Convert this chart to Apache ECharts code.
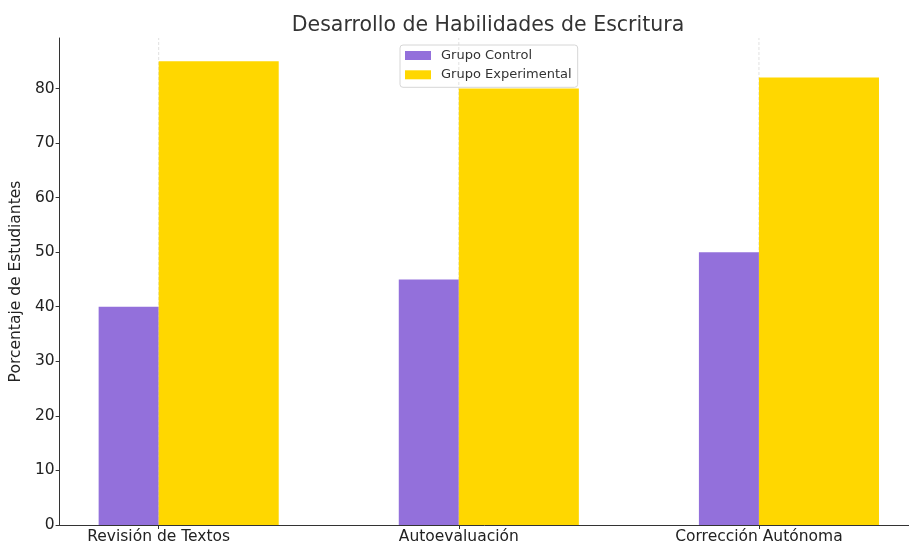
<!DOCTYPE html>
<html><head><meta charset="utf-8">
<script src="https://cdn.jsdelivr.net/npm/echarts@6/dist/echarts.min.js"></script>
<style>html,body{margin:0;padding:0;background:#fff}#c{width:909px;height:545px}</style>
</head><body><div id="c"></div>
<script>
const categories = ['Revisión de Textos', 'Autoevaluación', 'Corrección Autónoma'];
const grupoControl = [40, 45, 50];
const grupoExperimental = [85, 80, 82];
const yTicks = [0, 10, 20, 30, 40, 50, 60, 70, 80];
const xTicks = [0, 1, 2];

const FONT = 'DejaVu Sans';
const chart = echarts.init(document.getElementById('c'), null, {renderer: 'canvas'});

function barItem(start, end) {
  return function (params, api) {
    const x = api.value(0), v = api.value(1);
    const p0 = api.coord([x + start, v]);
    const p1 = api.coord([x + end, 0]);
    return {
      type: 'rect',
      shape: {x: p0[0], y: p0[1], width: p1[0] - p0[0], height: p1[1] - p0[1]},
      style: {fill: api.visual('color')}
    };
  };
}

chart.setOption({
  animation: false,
  title: {
    text: 'Desarrollo de Habilidades de Escritura',
    left: 488, top: 15, textAlign: 'center', padding: 0,
    textStyle: {fontFamily: FONT, fontSize: 20.5, fontWeight: 'normal', color: '#333'}
  },
  legend: {
    data: ['Grupo Control', 'Grupo Experimental'],
    orient: 'vertical', left: 400, top: 45,
    icon: 'rect', itemWidth: 26, itemHeight: 9, itemGap: 6.3,
    padding: [4, 6, 6, 5],
    borderColor: '#d6d6d6', borderWidth: 1, borderRadius: 3,
    textStyle: {fontFamily: FONT, fontSize: 13, color: '#333', padding: [0, 0, 0, 5]}
  },
  grid: {left: 57.5, top: 38, width: 851.5, height: 488.5, containLabel: false},
  xAxis: {
    type: 'value', min: -0.33, max: 2.5,
    axisLine: {show: true, onZero: false, lineStyle: {color: '#333', width: 1}},
    axisTick: {show: true, customValues: xTicks, length: 4, inside: false, lineStyle: {color: '#333'}},
    axisLabel: {customValues: xTicks, formatter: v => categories[Math.round(v)], fontFamily: FONT, fontSize: 15.5, color: '#222', margin: 4},
    splitLine: {show: false}
  },
  yAxis: {
    type: 'value', min: 0, max: 89.25,
    name: 'Porcentaje de Estudiantes', nameLocation: 'middle', nameGap: 32,
    nameTextStyle: {fontFamily: FONT, fontSize: 15.5, color: '#222'},
    axisLine: {show: true, onZero: false, lineStyle: {color: '#333', width: 1}},
    axisTick: {show: true, customValues: yTicks, length: 4, inside: false, lineStyle: {color: '#333'}},
    axisLabel: {customValues: yTicks, fontFamily: FONT, fontSize: 15.5, color: '#222', margin: 5},
    splitLine: {show: false}
  },
  series: [
    {
      type: 'custom', name: 'grid', silent: true, z: 1,
      data: xTicks.map(v => [v, 0]),
      encode: {x: 0, y: 1},
      renderItem: function (params, api) {
        const x = api.value(0);
        const a = api.coord([x, 0]);
        const b = api.coord([x, 89.25]);
        return {type: 'line', shape: {x1: a[0], y1: a[1], x2: b[0], y2: b[1]},
          style: {stroke: '#d9d9d9', lineWidth: 0.8, lineDash: [3, 2]}};
      }
    },
    {
      type: 'custom', name: 'Grupo Control', z: 2,
      itemStyle: {color: '#9370DB'},
      data: grupoControl.map((v, i) => [i, v]),
      encode: {x: 0, y: 1},
      renderItem: barItem(-0.2, 0)
    },
    {
      type: 'custom', name: 'Grupo Experimental', z: 2,
      itemStyle: {color: '#FFD700'},
      data: grupoExperimental.map((v, i) => [i, v]),
      encode: {x: 0, y: 1},
      renderItem: barItem(0, 0.4)
    }
  ]
});
</script></body></html>
